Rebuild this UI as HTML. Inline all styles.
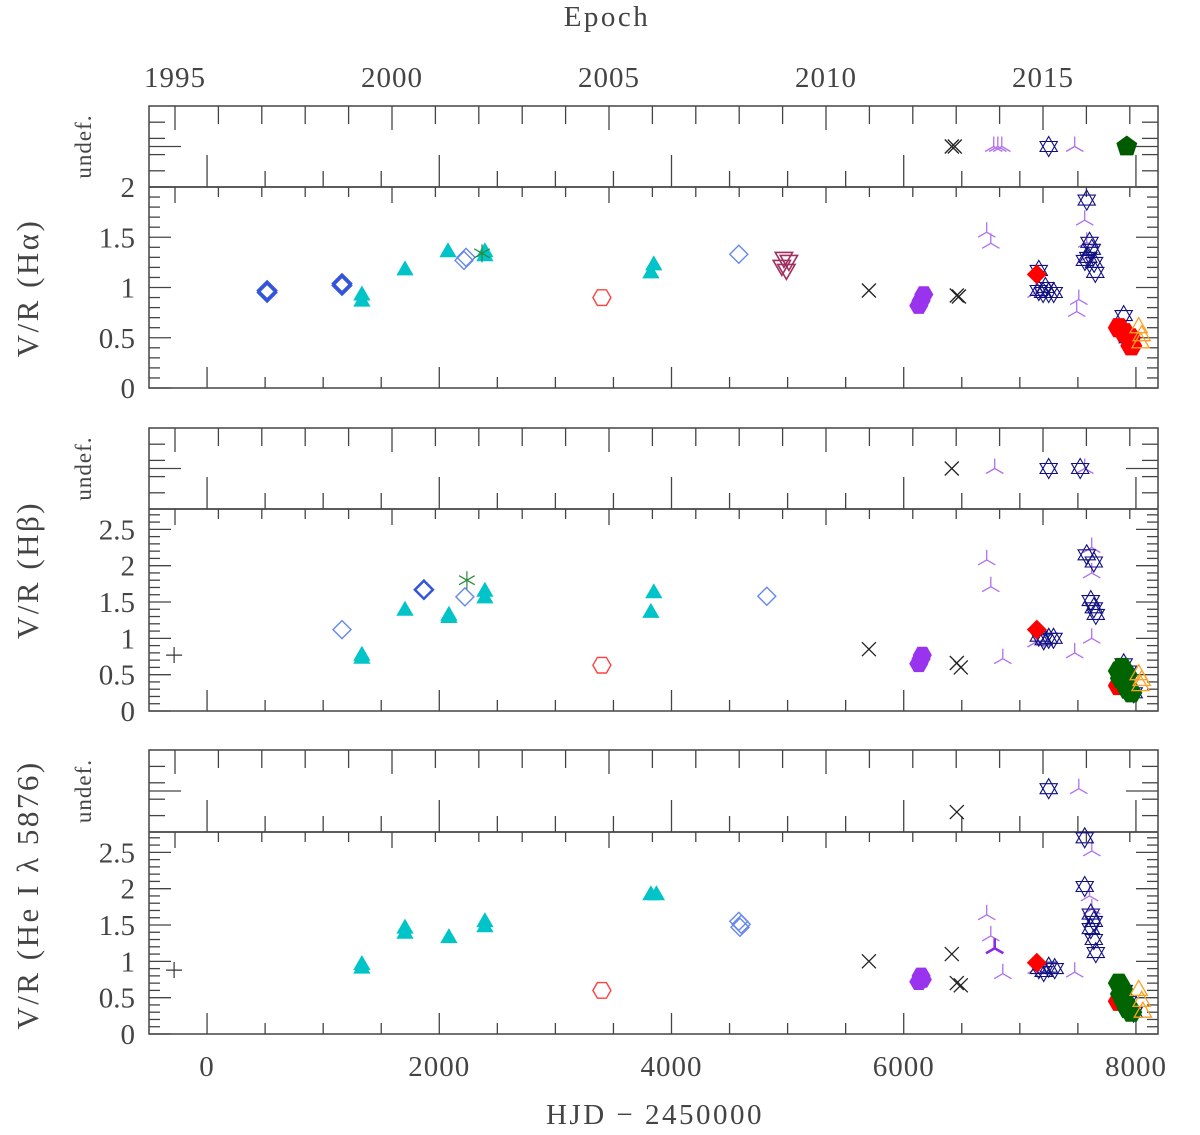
<!DOCTYPE html>
<html><head><meta charset="utf-8">
<style>
html,body{margin:0;padding:0;background:#fff;}
svg text{font-family:"Liberation Serif",serif;fill:#444;}
</style></head>
<body>
<svg id="chart" width="1200" height="1130" viewBox="0 0 1200 1130" xmlns="http://www.w3.org/2000/svg"></svg>
<script>
// ---------- data (HJD-2450000, V/R) ----------
const xTickLabels = ["0","2000","4000","6000","8000"];
const xTickValues = [0,2000,4000,6000,8000];
const yearTickLabels = ["1995","2000","2005","2010","2015"];
const yearTickValues = [1995,2000,2005,2010,2015];
const haTickLabels = ["0","0.5","1","1.5","2"];
const hbTickLabels = ["0","0.5","1","1.5","2","2.5"];

// H alpha
const haDiamondDark = [[517,0.95],[517,0.97],[1162,1.02],[1162,1.04]];
const haDiamondLight = [[2213,1.27],[2230,1.30],[4580,1.33]];
const haCyan = [[1334,0.92],[1334,0.86],[1705,1.17],[2075,1.35],[2393,1.31],[2393,1.35],[3823,1.14],[3848,1.22]];
const haAsterisk = [[2368,1.34]];
const haRedHex = [[3401,0.90]];
const haMaroon = [[4968,1.30],[5011,1.27],[4950,1.22],[4990,1.18]];
const haBlackX = [[5700,0.97],[6457,0.92],[6475,0.91]];
const haPurpleHex = [[6130,0.82],[6150,0.87],[6173,0.93]];
const haTripod = [[6715,1.55],[6750,1.44],[7559,1.67],[7576,1.45],[7508,0.88],[7490,0.76],[7140,0.95],[7576,1.30]];
const haStars = [[7163,1.17],[7163,0.97],[7200,0.95],[7249,0.95],[7292,0.95],[7220,1.00],[7576,1.87],[7600,1.45],[7620,1.38],[7590,1.30],[7640,1.25],[7560,1.27],[7650,1.15],[7895,0.72],[7930,0.50]];
const haRedDiamond = [[7146,1.13]];
const haRedFilled = [[7852,0.60],[7900,0.55],[7950,0.50],[7960,0.42]];
const haOrange = [[8024,0.60],[8050,0.52],[8040,0.45]];
const haUndefX = [6414,6440];
const haUndefTripod = [6775,6810,6845,7473];
const haUndefStars = [7249];
const haUndefPent = [7921];

// H beta
const hbPlus = [[-284,0.77]];
const hbDiamondLight = [[1162,1.12],[2221,1.57],[4821,1.58]];
const hbDiamondDark = [[1868,1.67]];
const hbCyan = [[1334,0.76],[1334,0.72],[1705,1.38],[2083,1.31],[2083,1.28],[2393,1.64],[2393,1.55],[3823,1.35],[3848,1.62]];
const hbAsterisk = [[2238,1.80]];
const hbRedHex = [[3401,0.63]];
const hbBlackX = [[5700,0.85],[6457,0.66],[6492,0.60]];
const hbPurpleHex = [[6130,0.65],[6150,0.72],[6160,0.77]];
const hbTripod = [[6715,2.08],[6750,1.71],[6853,0.72],[7473,0.80],[7619,2.25],[7619,1.90],[7619,1.00],[7140,0.95]];
const hbStars = [[7576,2.15],[7637,2.05],[7611,1.52],[7637,1.42],[7654,1.33],[7163,1.03],[7206,0.98],[7249,1.00],[7290,1.00],[7895,0.65],[7930,0.55],[7981,0.25]];
const hbRedDiamond = [[7146,1.12]];
const hbGreenHex = [[7852,0.55],[7870,0.45],[7900,0.40],[7930,0.30],[7960,0.25],[7880,0.60],[7920,0.50]];
const hbRedFilled = [[7852,0.35]];
const hbOrange = [[8024,0.50],[8050,0.42],[8040,0.35]];
const hbUndefX = [6414];
const hbUndefTripod = [6784,7559];
const hbUndefStars = [7249,7520];

// He I 5876
const hePlus = [[-284,0.88]];
const heCyan = [[1334,0.95],[1334,0.90],[1705,1.45],[1705,1.38],[2083,1.32],[2393,1.54],[2393,1.47],[3823,1.91],[3870,1.91]];
const heRedHex = [[3401,0.60]];
const heDiamondLight = [[4580,1.55],[4590,1.47],[4600,1.51]];
const heBlackX = [[5700,1.00],[6414,1.10],[6457,0.70],[6492,0.67]];
const hePurpleHex = [[6130,0.72],[6150,0.80],[6160,0.75]];
const heTripod = [[6715,1.64],[6750,1.35],[6853,0.83],[7473,0.85],[7620,2.52],[7600,1.90],[7620,1.72],[7140,0.90]];
const heBoldTripod = [[6784,1.18]];
const heStars = [[7559,2.70],[7559,2.03],[7611,1.65],[7637,1.55],[7611,1.45],[7637,1.30],[7654,1.12],[7163,0.90],[7206,0.86],[7249,0.92],[7300,0.90],[7895,0.60],[7930,0.45],[7981,0.30]];
const heRedDiamond = [[7146,0.98]];
const heGreenHex = [[7852,0.70],[7870,0.55],[7900,0.45],[7930,0.35],[7960,0.30],[7880,0.62],[7920,0.40]];
const heRedFilled = [[7852,0.45]];
const heOrange = [[8024,0.60],[8050,0.45],[8060,0.30]];
const heUndefStars = [7249];
const heUndefTripod = [7508];
const heUndefXLow = [6457];

// ---------- layout ----------
const NS = "http://www.w3.org/2000/svg";
const svg = document.getElementById('chart');
const L = 149, R = 1158, XMIN = -500, XMAX = 8190;
function xs(v){ return L + (v - XMIN) / (XMAX - XMIN) * (R - L); }
function yearX(y){ return 392 + (y - 2000) * 43.4; }
const panels = [
  {name:'halpha', ut:106, mt:187, mb:388, ymax:2.0},
  {name:'hbeta', ut:428, mt:509, mb:711, ymax:2.78},
  {name:'hei', ut:750, mt:832, mb:1034, ymax:2.78}
];
function mk(tag, attrs, parent){
  const e = document.createElementNS(NS, tag);
  for (const k in attrs) e.setAttribute(k, attrs[k]);
  (parent || svg).appendChild(e);
  return e;
}
function line(x1,y1,x2,y2,g,w){ mk('line',{x1,y1,x2,y2,stroke:'#444','stroke-width':w||1.3},g); }

// axes
panels.forEach((p,i)=>{
  const g = mk('g',{});
  
  
  mk('rect',{x:L,y:p.ut,width:R-L,height:p.mb-p.ut,fill:'none',stroke:'#444','stroke-width':1.5},g);
  line(L,p.mt,R,p.mt,g,1.8);
  const ys = v => p.mb - v / p.ymax * (p.mb - p.mt);
  for (let v=0; v<=8000; v+=500){
    const x = xs(v), maj = v % 2000 === 0;
    line(x,p.mb,x,p.mb-(maj?21:11),g);
    line(x,p.mt,x,p.mt-(maj?32:16),g);
  }
  for (let y=1995; y<=2017; y++){
    const x = yearX(y), maj = y % 5 === 0;
    line(x,p.ut,x,p.ut+(maj?24:18),g);
    line(x,p.mt,x,p.mt+(maj?16:10),g);
  }
  for (let k=0; k<=Math.floor(p.ymax*10+0.001); k++){
    const v = k/10, y = ys(v), maj = k % 5 === 0;
    line(L,y,L+(maj?22:11),y,g);
    line(R,y,R-(maj?22:11),y,g);
  }
  for (let k=1; k<=4; k++){
    const y = p.ut + k*(p.mt-p.ut)/5;
    line(L,y,L+16,y,g); line(R,y,R-16,y,g);
  }
  const ym = (p.ut+p.mt)/2;
  line(L,ym,L+32,ym,g); line(R,ym,R-32,ym,g);
  const labs = i===0 ? haTickLabels : hbTickLabels;
  labs.forEach((t,j)=>{
    const v = j*0.5;
    const tx = mk('text',{x:L-14,y:ys(v)+10,'font-size':29,'text-anchor':'end'},g);
    
    
    tx.textContent = t;
  });
  const u = mk('text',{x:0,y:0,'font-size':23,'text-anchor':'middle','letter-spacing':'1',transform:`translate(${L-58},${ym}) rotate(-90)`},g);
  
  
  u.textContent = 'undef.';
});

const titles = [
  {t:'V/R (H\u03b1)', cx:28, cy:288, n:'halpha-y-axis-title'},
  {t:'V/R (H\u03b2)', cx:28, cy:570, n:'hbeta-y-axis-title'},
  {t:'V/R (He I \u03bb 5876)', cx:28, cy:895, n:'hei-y-axis-title'}
];
titles.forEach(o=>{
  const e = mk('text',{x:0,y:0,'font-size':31,'text-anchor':'middle','letter-spacing':'2.5',transform:`translate(${o.cx+10},${o.cy}) rotate(-90)`});
  
  
  e.textContent = o.t;
});
xTickLabels.forEach((t,i)=>{
  const e = mk('text',{x:xs(xTickValues[i]),y:1076,'font-size':29,'text-anchor':'middle','letter-spacing':'1'});
  
  
  e.textContent = t;
});
yearTickLabels.forEach((t,i)=>{
  const e = mk('text',{x:yearX(yearTickValues[i]),y:87,'font-size':29,'text-anchor':'middle','letter-spacing':'1'});
  
  
  e.textContent = t;
});
let e1 = mk('text',{x:655,y:1124,'font-size':29,'text-anchor':'middle','letter-spacing':'2.5'});


e1.textContent = 'HJD \u2212 2450000';
let e2 = mk('text',{x:607,y:26,'font-size':29,'text-anchor':'middle','letter-spacing':'2.5'});


e2.textContent = 'Epoch';

// ---------- markers ----------
function poly(n, r, rot){ let s=[]; for(let k=0;k<n;k++){const a=rot+k*2*Math.PI/n; s.push((r*Math.cos(a)).toFixed(2)+','+(r*Math.sin(a)).toFixed(2));} return s.join(' '); }
function marker(type, x, y, g){
  const t = `translate(${x.toFixed(1)},${y.toFixed(1)})`;
  switch(type){
    case 'diamondDark': mk('polygon',{points:poly(4,9,0),transform:t,fill:'none',stroke:'#3355dd','stroke-width':2.5},g); break;
    case 'diamondLight': mk('polygon',{points:poly(4,9,0),transform:t,fill:'none',stroke:'#6688ee','stroke-width':1.4},g); break;
    case 'cyan': mk('polygon',{points:poly(3,9,-Math.PI/2),transform:t,fill:'#00c4c8',stroke:'#00c4c8','stroke-width':1},g); break;
    case 'asterisk': { const gg=mk('g',{transform:t,stroke:'#2a8a3a','stroke-width':1.2},g); for(let k=0;k<3;k++){const a=k*Math.PI/3+Math.PI/2; mk('line',{x1:-9*Math.cos(a),y1:-9*Math.sin(a),x2:9*Math.cos(a),y2:9*Math.sin(a)},gg);} break; }
    case 'redHex': mk('polygon',{points:poly(6,9,0),transform:t,fill:'none',stroke:'#ff4040','stroke-width':1.4},g); break;
    case 'maroon': mk('polygon',{points:poly(3,10,Math.PI/2),transform:t,fill:'none',stroke:'#a03060','stroke-width':1.6},g); break;
    case 'blackX': { const gg=mk('g',{transform:t,stroke:'#222','stroke-width':1.3},g); mk('line',{x1:-7,y1:-7,x2:7,y2:7},gg); mk('line',{x1:-7,y1:7,x2:7,y2:-7},gg); break; }
    case 'plus': { const gg=mk('g',{transform:t,stroke:'#333','stroke-width':1.2},g); mk('line',{x1:-8,y1:0,x2:8,y2:0},gg); mk('line',{x1:0,y1:-8,x2:0,y2:8},gg); break; }
    case 'purpleHex': mk('polygon',{points:poly(6,9,0),transform:t,fill:'#9933ee',stroke:'#9933ee','stroke-width':1},g); break;
    case 'tripod': case 'boldTripod': { const gg=mk('g',{transform:t,stroke:type==='tripod'?'#b070ee':'#8a2be2','stroke-width':type==='tripod'?1.3:2.6},g); for(let k=0;k<3;k++){const a=-Math.PI/2+k*2*Math.PI/3; mk('line',{x1:0,y1:0,x2:(10*Math.cos(a)).toFixed(2),y2:(10*Math.sin(a)).toFixed(2)},gg);} break; }
    case 'star': { const gg=mk('g',{transform:t,fill:'none',stroke:'#101080','stroke-width':1.1},g); mk('polygon',{points:poly(3,10,-Math.PI/2)},gg); mk('polygon',{points:poly(3,10,Math.PI/2)},gg); break; }
    case 'redDiamond': mk('polygon',{points:poly(4,10,0),transform:t,fill:'#ff0000'},g); break;
    case 'redFilled': mk('polygon',{points:poly(6,11,0),transform:t,fill:'#ff0000'},g); break;
    case 'greenHex': mk('polygon',{points:poly(6,11,0),transform:t,fill:'#006400'},g); break;
    case 'greenPent': mk('polygon',{points:poly(5,11,-Math.PI/2),transform:t,fill:'#005a00'},g); break;
    case 'orange': mk('polygon',{points:poly(3,10,-Math.PI/2),transform:t,fill:'none',stroke:'#ffa020','stroke-width':1.3},g); break;
  }
}
function series(panelIdx, arr, type, name){
  const p = panels[panelIdx];
  const g = mk('g',{});
  
  
  arr.forEach(d=>{
    const y = p.mb - d[1] / p.ymax * (p.mb - p.mt);
    marker(type, xs(d[0]), y, g);
  });
}
function undef(panelIdx, arr, type, name, level){
  const p = panels[panelIdx];
  const g = mk('g',{});
  
  
  const y = (p.ut+p.mt)/2 + level*(p.mt-p.ut)/3.5;
  arr.forEach(v=> marker(type, xs(v), y, g));
}

series(0,haDiamondDark,'diamondDark','diamond-dark');
series(0,haDiamondLight,'diamondLight','diamond-light');
series(0,haCyan,'cyan','cyan-triangles');
series(0,haAsterisk,'asterisk','asterisk');
series(0,haRedHex,'redHex','red-hexagon');
series(0,haMaroon,'maroon','maroon-triangles');
series(0,haBlackX,'blackX','black-crosses');
series(0,haPurpleHex,'purpleHex','purple-hexagons');
series(0,haTripod,'tripod','tripods');
series(0,haStars,'star','stars');
series(0,haRedFilled,'redFilled','red-filled');
series(0,haOrange,'orange','orange-triangles');
series(0,haRedDiamond,'redDiamond','red-diamond');
undef(0,haUndefX,'blackX','crosses',0);
undef(0,haUndefTripod,'tripod','tripods',0);
undef(0,haUndefStars,'star','stars',0);
undef(0,haUndefPent,'greenPent','pentagon',0);

series(1,hbPlus,'plus','plus');
series(1,hbDiamondLight,'diamondLight','diamond-light');
series(1,hbDiamondDark,'diamondDark','diamond-dark');
series(1,hbCyan,'cyan','cyan-triangles');
series(1,hbAsterisk,'asterisk','asterisk');
series(1,hbRedHex,'redHex','red-hexagon');
series(1,hbBlackX,'blackX','black-crosses');
series(1,hbPurpleHex,'purpleHex','purple-hexagons');
series(1,hbTripod,'tripod','tripods');
series(1,hbStars,'star','stars');
series(1,hbRedFilled,'redFilled','red-filled');
series(1,hbGreenHex,'greenHex','green-hexagons');
series(1,hbOrange,'orange','orange-triangles');
series(1,hbRedDiamond,'redDiamond','red-diamond');
undef(1,hbUndefX,'blackX','crosses',0);
undef(1,hbUndefTripod,'tripod','tripods',0);
undef(1,hbUndefStars,'star','stars',0);

series(2,hePlus,'plus','plus');
series(2,heCyan,'cyan','cyan-triangles');
series(2,heRedHex,'redHex','red-hexagon');
series(2,heDiamondLight,'diamondLight','diamond-light');
series(2,heBlackX,'blackX','black-crosses');
series(2,hePurpleHex,'purpleHex','purple-hexagons');
series(2,heTripod,'tripod','tripods');
series(2,heBoldTripod,'boldTripod','bold-tripod');
series(2,heStars,'star','stars');
series(2,heRedFilled,'redFilled','red-filled');
series(2,heGreenHex,'greenHex','green-hexagons');
series(2,heOrange,'orange','orange-triangles');
series(2,heRedDiamond,'redDiamond','red-diamond');
undef(2,heUndefStars,'star','stars',-0.1);
undef(2,heUndefTripod,'tripod','tripods',-0.1);
undef(2,heUndefXLow,'blackX','crosses',0.9);
</script>
</body></html>
